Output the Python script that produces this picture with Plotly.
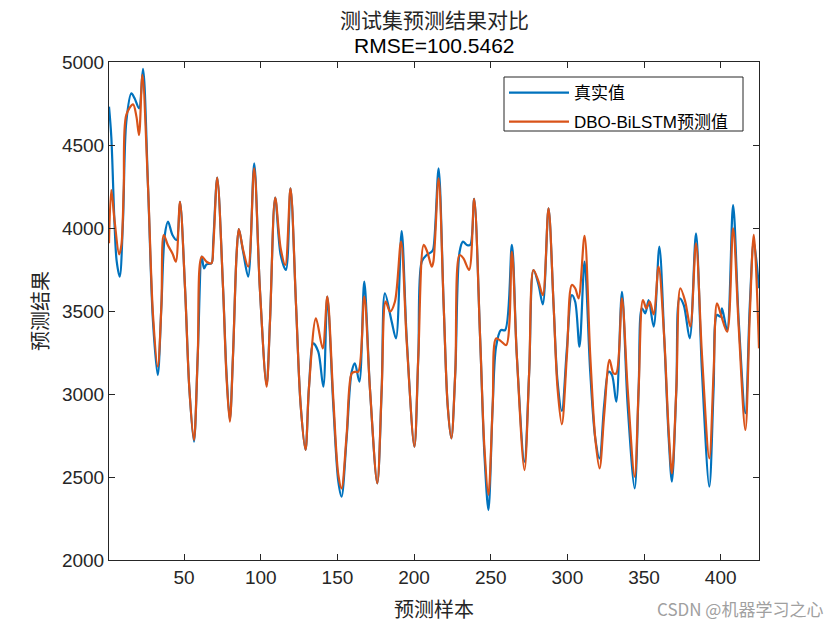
import plotly.graph_objects as go

# ---- data (sample index, value) ----
true_x = [1, 2.5, 4.5, 6, 8, 10.1, 12.3, 15.6, 17.7, 20.6, 23.2, 26.5, 29.7, 32.8, 35.2, 37.4, 39.5, 42.4, 45.1, 47.3,
          50.6, 53.4, 56.4, 58.9, 61.5, 63.0, 64.6, 67.8, 69.0, 71.6, 75.4, 77.6, 79.8, 81.9, 84.2, 85.7, 88.5, 91.8,
          95.7, 99.4, 103.8, 106.0, 109.4, 113.0, 116.4, 119.4, 123.0, 126.0, 129.2, 131.4, 134.3, 137.5, 140.8,
          143.4, 147.3, 150.6, 152.7, 156.0, 159.3, 161.4, 164.3, 167.5, 171.2, 176.0, 178.9, 181.0, 185.4, 188.2,
          191.9, 195.2, 200.2, 202.8, 205.0, 208.2, 211.5, 212.6, 216.0, 219.3, 221.9, 224.3, 226.9, 229.7, 231.9,
          234.4, 236.6, 239.2, 243.1, 245.9, 248.5, 251.3, 253.5, 256.6, 259.4, 263.8, 267.0, 272.0, 275.1, 277.9,
          281.2, 284.0, 287.7, 291.0, 293.6, 296.4, 299.7, 302.9, 305.1, 307.9, 311.2, 314.9, 318.2, 321.0, 324.0,
          326.9, 329.1, 331.9, 335.6, 339.3, 343.9, 346.5, 348.6, 350.8, 353.0, 356.3, 360.0, 363.2, 366.1, 368.2,
          371.1, 373.2, 375.9, 379.8, 383.9, 387.8, 392.6, 395.4, 397.6, 399.8, 400.9, 404.2, 408.1, 411.8, 416.1,
          419.0, 421.6, 425]
true_y = [4731, 4550, 4050, 3800, 3707, 4038, 4641, 4811, 4781, 4721, 4958, 4239, 3436, 3114, 3536, 3958, 4038, 3958, 3928, 4158,
          3637, 3034, 2713, 3235, 3827, 3757, 3781, 3787, 3918, 4303, 3637, 3134, 2843, 3235, 3837, 3994, 3857, 3707,
          4390, 3637, 3054, 3436, 4183, 3837, 3747, 4239, 3536, 2934, 2663, 3034, 3305, 3255, 3044,
          3586, 2934, 2472, 2381, 2733, 3134, 3185, 3074, 3677, 3034, 2462, 3034, 3606, 3436, 3335,
          3982, 3335, 2683, 3235, 3797, 3837, 3857, 3877, 4359, 3536, 2934, 2733, 3134, 3857, 3918,
          3898, 3898, 4175, 3335, 2633, 2301, 2934, 3285, 3385, 3385, 3898, 3235, 2592, 3134, 3747,
          3657, 3540, 4118, 3536, 3074, 2898, 3275, 3596, 3556, 3285, 3797, 3134, 2733, 2612, 2934,
          3134, 3114, 2954, 3616, 2934, 2432, 3034, 3516, 3486, 3566, 3406, 3888, 3335, 2733, 2472,
          3034, 3576, 3536, 3335, 3968, 3134, 2442, 3034, 3476, 3466, 3516, 3385, 4138, 3436, 2884,
          3536, 3918, 3637]

pred_x = [1, 2.5, 4.7, 7.6, 9.1, 10.6, 12.3, 16.7, 18.9, 20.6, 22.8, 26.5, 29.7, 32.8, 35.2, 36.7, 39.5, 42.4, 44.6, 47.3,
          50.6, 53.4, 56.4, 58.9, 61.5, 64.6, 67.8, 69.0, 71.6, 75.4, 77.6, 79.8, 81.9, 84.2, 85.7, 88.5, 91.8, 95.7,
          99.4, 103.8, 106.0, 109.4, 113.0, 116.0, 119.4, 123.0, 126.0, 129.2, 131.4, 136.0, 140.4, 143.4, 147.3,
          150.6, 152.7, 156.0, 159.3, 161.4, 163.6, 167.5, 171.2, 176.0, 178.9, 181.5, 184.3, 187.5, 191.5, 195.2,
          200.2, 202.8, 206.3, 208.6, 211.5, 212.6, 216.0, 219.3, 221.9, 224.3, 226.9, 229.7, 232.2, 235.9, 239.2,
          243.1, 245.9, 248.5, 251.3, 253.5, 256.6, 260.1, 263.8, 267.0, 272.0, 275.1, 277.9, 281.2, 284.0, 287.7,
          291.0, 293.6, 296.4, 299.7, 302.9, 305.1, 307.3, 311.2, 314.9, 318.2, 321.0, 324.0, 327.5, 330.1, 331.9,
          335.6, 339.3, 343.9, 346.5, 349.3, 351.5, 353.7, 356.3, 359.5, 363.2, 366.1, 368.2, 371.1, 373.7, 376.9,
          380.2, 383.9, 387.8, 392.6, 395.4, 397.6, 400.2, 404.2, 408.1, 411.8, 416.1, 419.0, 421.6, 425]
pred_y = [3908, 4229, 4038, 3841, 3898, 4239, 4681, 4745, 4671, 4560, 4922, 4239, 3476, 3165, 3536, 3958, 3894, 3847, 3797, 4158,
          3637, 3034, 2723, 3235, 3827, 3797, 3787, 3887, 4303, 3637, 3114, 2833, 3235, 3837, 3994, 3867, 3767, 4360,
          3637, 3044, 3436, 4183, 3877, 3777, 4239, 3536, 2934, 2663, 3034, 3456, 3275, 3586, 2974,
          2512, 2432, 2753, 3124, 3134, 3134, 3586, 3034, 2462, 3034, 3556, 3496, 3556, 3918, 3315,
          2683, 3235, 3898, 3857, 3767, 3797, 4299, 3536, 2934, 2733, 3134, 3837, 3817, 3747, 4175,
          3335, 2673, 2392, 2934, 3335, 3319, 3295, 3857, 3235, 2542, 3134, 3747, 3677, 3596, 4118,
          3536, 3034, 2817, 3235, 3657, 3637, 3576, 3952, 3235, 2733, 2552, 2874, 3205, 3124, 3124,
          3576, 3034, 2502, 3034, 3566, 3516, 3556, 3480, 3767, 3335, 2773, 2522, 3034, 3637, 3556,
          3406, 3908, 3235, 2612, 3134, 3546, 3476, 3375, 3998, 3396, 2783, 3476, 3958, 3275]

n_samples = 425
x_ticks = [50, 100, 150, 200, 250, 300, 350, 400]
y_ticks = [2000, 2500, 3000, 3500, 4000, 4500, 5000]

name_true = "真实值"
name_pred = "DBO-BiLSTM预测值"
title_1 = "测试集预测结果对比"
title_2 = "RMSE=100.5462"

BLUE = "#0072BD"
ORANGE = "#D95319"
AX = "#262626"
CJK = "Noto Sans CJK SC"
LAT = "Liberation Sans, Arial, sans-serif"

plot_top, plot_bottom, plot_left, plot_right = 62, 560, 109, 759

fig = go.Figure()
fig.add_trace(go.Scatter(x=true_x, y=true_y, mode="lines", name=name_true, legendgroup="a",
                         line=dict(color=BLUE, width=2.2, shape="spline", smoothing=0.9)))
fig.add_trace(go.Scatter(x=pred_x, y=pred_y, mode="lines", name=name_pred, legendgroup="b",
                         line=dict(color=ORANGE, width=2.2, shape="spline", smoothing=0.9)))

axis_common = dict(showline=True, linecolor=AX, linewidth=1, mirror="allticks",
                   ticks="inside", ticklen=6, tickcolor=AX, tickwidth=1,
                   showgrid=False, zeroline=False,
                   tickfont=dict(family=LAT, size=19, color=AX))

fig.update_xaxes(range=[1, n_samples], tickvals=x_ticks, **axis_common,
                 title=dict(text="预测样本", font=dict(family=CJK, size=20, color=AX), standoff=16))
fig.update_yaxes(range=[2000, 5000], tickvals=y_ticks, **axis_common,
                 title=dict(text="预测结果", font=dict(family=CJK, size=20, color=AX), standoff=7))


def px_x(p):
    return (p - plot_left) / (plot_right - plot_left)


def px_y(p):
    return (plot_bottom - p) / (plot_bottom - plot_top)


fig.update_layout(
    width=840, height=630,
    margin=dict(l=plot_left, r=840 - plot_right, t=plot_top, b=630 - plot_bottom, autoexpand=False),
    paper_bgcolor="white", plot_bgcolor="white",
    showlegend=True,
    legend=dict(x=px_x(504), y=px_y(75), xanchor="left", yanchor="top",
                bgcolor="rgba(0,0,0,0)", borderwidth=0,
                font=dict(family=LAT + ", " + CJK, size=17, color="black"),
                itemwidth=60, tracegroupgap=4),
    shapes=[dict(type="rect", xref="paper", yref="paper",
                 x0=px_x(504), x1=px_x(743), y0=px_y(131), y1=px_y(77),
                 line=dict(color=AX, width=1), fillcolor="rgba(0,0,0,0)", layer="above")],
    annotations=[
        dict(text=title_1, x=0.5, y=px_y(18.5), xref="paper", yref="paper", showarrow=False,
             yanchor="middle", font=dict(family=CJK, size=21, color=AX)),
        dict(text=title_2, x=0.5, y=px_y(45), xref="paper", yref="paper", showarrow=False,
             yanchor="middle", font=dict(family=LAT, size=21, color="black")),
        dict(text="CSDN @机器学习之心", x=px_x(825), y=px_y(608), xref="paper", yref="paper",
             showarrow=False, xanchor="right", yanchor="middle",
             font=dict(family=CJK, size=17, color="#a0a0a0")),
    ],
)

fig.write_html("out.html", config={"displayModeBar": False},
               post_script="document.body.style.margin='0';")
